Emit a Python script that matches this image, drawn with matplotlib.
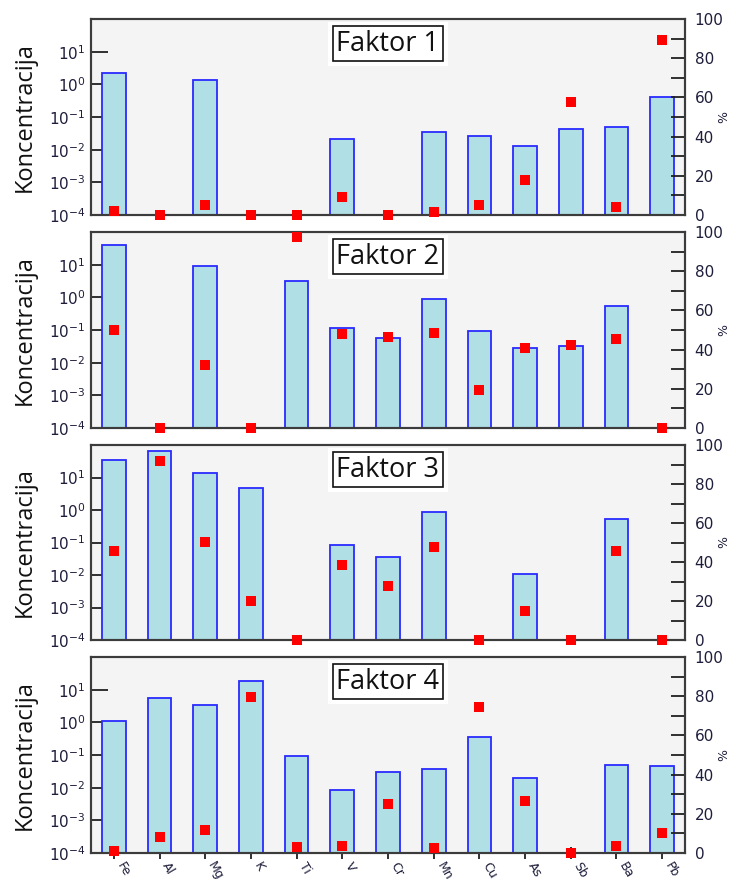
import numpy as np
import matplotlib
matplotlib.use("Agg")
import matplotlib.pyplot as plt
from matplotlib.ticker import FixedLocator, FixedFormatter, MultipleLocator, NullLocator

elements = ["Fe", "Al", "Mg", "K", "Ti", "V", "Cr", "Mn", "Cu", "As", "Sb", "Ba", "Pb"]
factor_names = ["Faktor 1", "Faktor 2", "Faktor 3", "Faktor 4"]

nan = np.nan
# concentration profile per factor (log axis); nan = no bar
conc_f1 = [2.3, nan, 1.4, nan, nan, 0.021, nan, 0.034, 0.026, 0.013, 0.042, 0.050, 0.40]
conc_f2 = [41, nan, 9.3, nan, 3.2, 0.115, 0.057, 0.89, 0.096, 0.029, 0.032, 0.54, nan]
conc_f3 = [35, 66, 13.5, 4.6, nan, 0.083, 0.035, 0.89, nan, 0.011, nan, 0.52, nan]
conc_f4 = [1.07, 5.5, 3.5, 18, 0.091, 0.0087, 0.031, 0.038, 0.35, 0.020, nan, 0.051, 0.046]

# share of each species explained by the factor (%)
pct_f1 = [2.2, 0, 5.1, 0, 0, 9.3, 0, 1.7, 5.1, 17.9, 57.5, 4.2, 89.3]
pct_f2 = [50, 0, 32, 0, 97.6, 48, 46.3, 48.6, 19.6, 40.6, 42.2, 45.6, 0]
pct_f3 = [45.6, 91.6, 50.5, 20, 0, 38.4, 27.7, 47.6, 0, 15.1, 0, 45.4, 0]
pct_f4 = [1.2, 8, 11.7, 79.7, 2.9, 3.7, 25, 2.6, 74.5, 26.5, 0, 3.7, 10]

conc_all = [conc_f1, conc_f2, conc_f3, conc_f4]
pct_all = [pct_f1, pct_f2, pct_f3, pct_f4]

W, H = 736, 882
fig = plt.figure(figsize=(W / 100, H / 100), dpi=100)

label_color = "#1e1e3c"
spine_color = "#3c3c3c"
left_px, right_px = 91, 685
panels_px = [(19, 215), (232, 428), (445, 640), (657, 853)]

x = np.arange(len(elements))
dec_ticks = [1e-4, 1e-3, 1e-2, 1e-1, 1e0, 1e1]
dec_labels = [r"$10^{-4}$", r"$10^{-3}$", r"$10^{-2}$", r"$10^{-1}$", r"$10^{0}$", r"$10^{1}$"]

for i, (top, bot) in enumerate(panels_px):
    rect = [left_px / W, 1 - bot / H, (right_px - left_px) / W, (bot - top) / H]
    ax = fig.add_axes(rect)
    ax.set_facecolor("#f4f4f4")
    ax.set_yscale("log", nonpositive="clip")
    ax.bar(x, conc_all[i], width=0.52, color="#b0dfe5", edgecolor="#2a2aff",
           linewidth=1.3, zorder=2)
    ax.set_xlim(-0.5, len(elements) - 0.5)
    ax.set_ylim(1e-4, 1e2)
    ax.yaxis.set_major_locator(FixedLocator(dec_ticks))
    ax.yaxis.set_major_formatter(FixedFormatter(dec_labels))
    ax.yaxis.set_minor_locator(NullLocator())
    ax.tick_params(axis="y", which="major", direction="in", length=12, width=1.3,
                   color="#202020", labelsize=11, labelcolor=label_color, pad=4)
    ax.set_ylabel("Koncentracija", fontsize=17, family="Open Sans", color="#111111",
                  labelpad=6)
    ax.yaxis.set_label_coords(-0.092, 0.5)
    for s in ax.spines.values():
        s.set_color(spine_color)
        s.set_linewidth(1.5)

    if i == 3:
        ax.set_xticks(x)
        ax.set_xticklabels(elements, rotation=-60, ha="left", va="top",
                           fontsize=9, color=label_color)
        ax.tick_params(axis="x", direction="inout", length=8, width=1.3,
                       color="#202020", pad=1)
    else:
        ax.set_xticks([])

    # white halo behind the framed factor title
    ax.text(0.5, 0.945, factor_names[i], transform=ax.transAxes, ha="center",
            va="top", fontsize=19.5, family="Open Sans", color="none", zorder=5,
            bbox=dict(boxstyle="square,pad=0.3", facecolor="white",
                      edgecolor="none"))
    ax.text(0.5, 0.945, factor_names[i], transform=ax.transAxes, ha="center",
            va="top", fontsize=19.5, family="Open Sans", color="#111111", zorder=6,
            bbox=dict(boxstyle="square,pad=0.13", facecolor="white",
                      edgecolor="#111111", linewidth=1.2))

    ax2 = ax.twinx()
    ax2.set_ylim(0, 100)
    ax2.plot(x, pct_all[i], linestyle="none", marker="s", markersize=7.5,
             color="#ff0000", markeredgewidth=0, clip_on=False, zorder=5)
    ax2.yaxis.set_major_locator(MultipleLocator(20))
    ax2.yaxis.set_minor_locator(MultipleLocator(10))
    ax2.tick_params(axis="y", which="major", direction="in", length=10, width=1.3,
                    color="#202020", labelsize=11, labelcolor=label_color, pad=7)
    ax2.tick_params(axis="y", which="minor", direction="in", length=10, width=1.3,
                    color="#202020")
    ax2.set_ylabel("%", fontsize=9, color=label_color)
    ax2.yaxis.set_label_coords(1.054, 0.5)
    for s in ax2.spines.values():
        s.set_color(spine_color)
        s.set_linewidth(1.5)

fig.savefig("out.png", dpi=100)
